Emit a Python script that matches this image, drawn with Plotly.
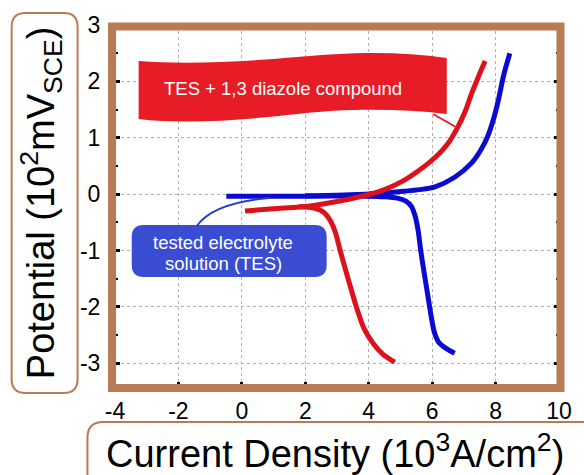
import plotly.graph_objects as go

# ---- data ----
blue_cath_x = [6.71, 6.45, 6.2, 6.07, 5.98, 5.87, 5.75, 5.64, 5.56, 5.47, 5.35, 5.16, 4.9, 4.5, 3.9, 2.0, 0.5, -0.49]
blue_cath_y = [-2.82, -2.74, -2.62, -2.45, -2.2, -1.82, -1.4, -1.0, -0.65, -0.4, -0.22, -0.12, -0.07, -0.045, -0.035, -0.035, -0.035, -0.035]
blue_anod_x = [2.0, 3.0, 3.9, 4.5, 5.1, 5.6, 6.09, 6.71, 7.24, 7.52, 7.74, 7.95, 8.08, 8.26, 8.45]
blue_anod_y = [-0.03, -0.02, 0.0, 0.02, 0.05, 0.08, 0.13, 0.3, 0.55, 0.77, 1.01, 1.36, 1.65, 2.12, 2.5]

red_main_x = [0.1, 1.0, 2.15, 3.0, 3.92, 4.5, 5.07, 5.56, 6.09, 6.5, 6.8, 7.05, 7.24, 7.45, 7.67]
red_main_y = [-0.30, -0.26, -0.21, -0.13, -0.02, 0.08, 0.23, 0.41, 0.65, 0.9, 1.18, 1.48, 1.78, 2.07, 2.36]
red_cath_x = [1.8, 2.3, 2.58, 2.8, 2.95, 3.1, 3.35, 3.61, 3.85, 4.13, 4.45, 4.82]
red_cath_y = [-0.22, -0.25, -0.32, -0.48, -0.68, -1.0, -1.5, -2.0, -2.38, -2.64, -2.84, -2.98]

x_ticks = [-4, -2, 0, 2, 4, 6, 8, 10]
y_ticks = [-3, -2, -1, 0, 1, 2, 3]

# ---- layout geometry (pixels) ----
W, H = 584, 475
L, R, T, B = 115, 18, 25, 88
PW, PH = W - L - R, H - T - B
BROWN = "#b97a56"
FONT = "Liberation Sans, Arial, sans-serif"


def px(x):
    return (x - L) / PW


def py(y):
    return (H - B - y) / PH


def path(cmds):
    out = []
    for c in cmds:
        if isinstance(c, str):
            out.append(c)
        else:
            out.append(f"{px(c[0]):.5f},{py(c[1]):.5f}")
    return " ".join(out)


def rrect(x0, y0, x1, y1, r):
    return path(["M", (x0 + r, y0), "L", (x1 - r, y0), "Q", (x1, y0), (x1, y0 + r),
                 "L", (x1, y1 - r), "Q", (x1, y1), (x1 - r, y1), "L", (x0 + r, y1),
                 "Q", (x0, y1), (x0, y1 - r), "L", (x0, y0 + r), "Q", (x0, y0), (x0 + r, y0), "Z"])


BLUE = "#0a0ad0"
RED = "#dd111c"
fig = go.Figure()
for xs, ys, col in [(blue_anod_x, blue_anod_y, BLUE), (blue_cath_x, blue_cath_y, BLUE),
                    (red_cath_x, red_cath_y, RED), (red_main_x, red_main_y, RED)]:
    fig.add_trace(go.Scatter(x=xs, y=ys, mode="lines",
                             line=dict(color=col, width=5, shape="spline", smoothing=0.8)))

shapes = []
# plot frame
shapes.append(dict(type="rect", xref="paper", yref="paper",
                   x0=px(112), x1=px(567.5), y0=py(388), y1=py(26.5),
                   line=dict(color=BROWN, width=8), layer="above"))
# axis title boxes
shapes.append(dict(type="path", xref="paper", yref="paper", path=rrect(10, 13, 77, 393, 14),
                   line=dict(color=BROWN, width=2)))
shapes.append(dict(type="path", xref="paper", yref="paper", path=rrect(87, 422, 610, 500, 16),
                   line=dict(color=BROWN, width=2)))
# red banner
shapes.append(dict(type="path", xref="paper", yref="paper",
                   path=path(["M", (139, 61), "C", (190, 65), (255, 61), (300, 57),
                              "S", (400, 50), (452, 58), "L", (452, 114),
                              "C", (400, 108), (345, 109), (300, 114),
                              "S", (190, 125), (139, 119), "Z"]),
                   fillcolor="#e81c26", line=dict(width=0), layer="above"))
shapes.append(dict(type="path", xref="paper", yref="paper",
                   path=path(["M", (438, 114), "L", (463, 128)]),
                   line=dict(color="#e81c26", width=2), layer="above"))
# blue box
shapes.append(dict(type="path", xref="paper", yref="paper", path=rrect(132, 225, 330, 277, 12),
                   fillcolor="#3a4dd2", line=dict(width=0), layer="above"))
shapes.append(dict(type="path", xref="paper", yref="paper",
                   path=path(["M", (198, 226), "Q", (215, 202.5), (272, 198)]),
                   line=dict(color="#2a3ad0", width=2), layer="above"))

annotations = [
    dict(text="Potential (10<sup>2</sup>mV<sub>SCE</sub>)", textangle=-90,
         xref="paper", yref="paper", x=px(40), y=py(203), showarrow=False,
         font=dict(family=FONT, size=38, color="black"), xanchor="center", yanchor="middle"),
    dict(text="Current Density (10<sup>3</sup>A/cm<sup>2</sup>)",
         xref="paper", yref="paper", x=px(338), y=py(451), showarrow=False,
         font=dict(family=FONT, size=38, color="black"), xanchor="center", yanchor="middle"),
    dict(text="TES + 1,3 diazole compound",
         xref="paper", yref="paper", x=px(286), y=py(88), showarrow=False,
         font=dict(family=FONT, size=18.5, color="white"), xanchor="center", yanchor="middle"),
    dict(text="tested electrolyte",
         xref="paper", yref="paper", x=px(225), y=py(242), showarrow=False,
         font=dict(family=FONT, size=18.5, color="white"), xanchor="center", yanchor="middle"),
    dict(text="solution (TES)",
         xref="paper", yref="paper", x=px(225), y=py(263), showarrow=False,
         font=dict(family=FONT, size=18.5, color="white"), xanchor="center", yanchor="middle"),
]

axis_common = dict(
    showgrid=True, gridcolor="#b0b0b0", griddash="dot", gridwidth=1,
    zeroline=False, showline=True, linecolor="black", linewidth=1, mirror="ticks",
    ticks="inside", ticklen=5, tickwidth=3, tickcolor="black",
    tickfont=dict(family=FONT, size=23, color="black"),
)

fig.update_layout(
    width=W, height=H, margin=dict(l=L, r=R, t=T, b=B, pad=0),
    paper_bgcolor="white", plot_bgcolor="white", showlegend=False,
    xaxis=dict(range=[-4, 10], tickvals=x_ticks, ticktext=[str(v) for v in x_ticks],
               minor=dict(dtick=1, tick0=0, ticks="inside", ticklen=3, tickwidth=2,
                          tickcolor="black", showgrid=False),
               ticklabelstandoff=3, **axis_common),
    yaxis=dict(range=[-3.42, 3.0], tickvals=y_ticks, ticktext=[str(v) for v in y_ticks],
               minor=dict(dtick=0.5, tick0=0, ticks="inside", ticklen=3, tickwidth=2,
                          tickcolor="black", showgrid=False),
               ticklabelstandoff=9, **axis_common),
    shapes=shapes, annotations=annotations,
)

fig.write_html("out.html")
